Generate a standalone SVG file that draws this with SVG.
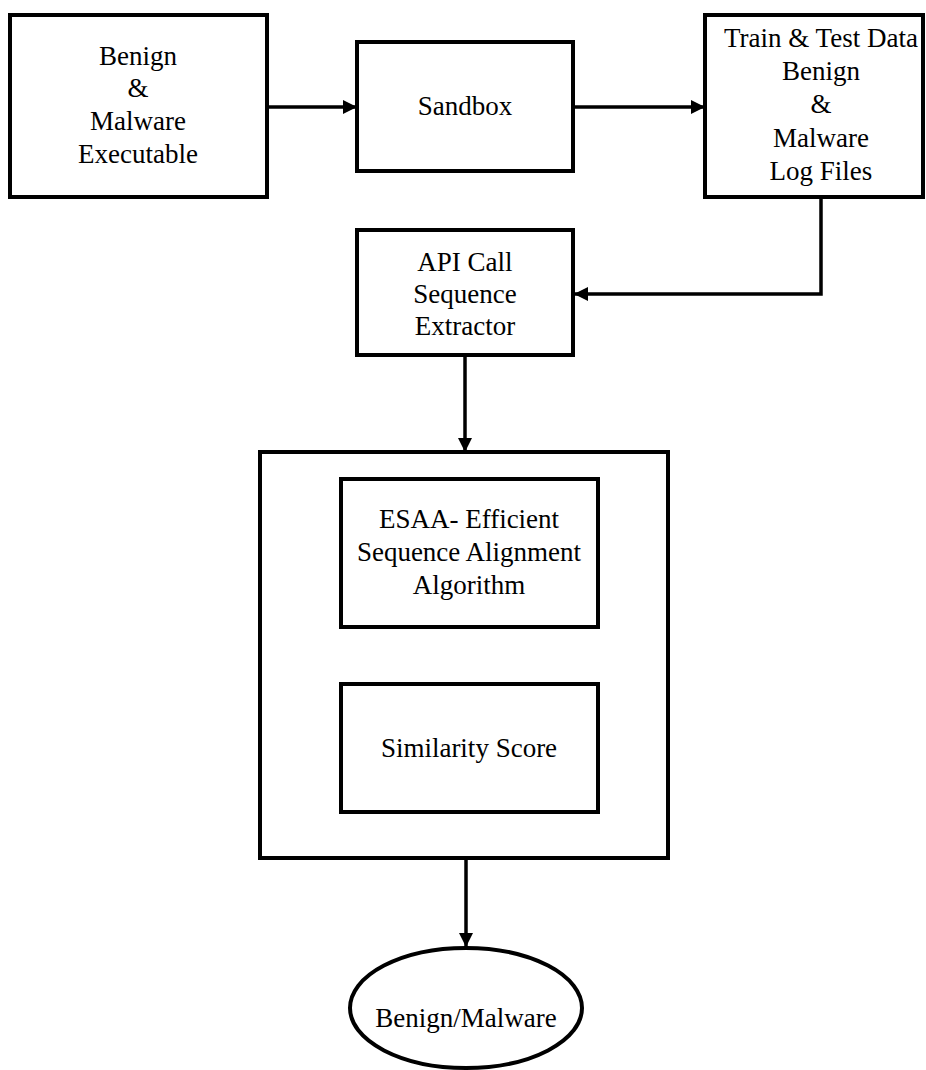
<svg xmlns="http://www.w3.org/2000/svg" width="926" height="1070" viewBox="0 0 926 1070">
<style>
.box{fill:#fff;stroke:#000;stroke-width:4}
.ln{fill:none;stroke:#000;stroke-width:3.5}
text{font-family:"Liberation Serif","Times New Roman",serif;font-size:27px;fill:#000;text-anchor:middle}
</style>
<defs>
<marker id="ah" markerWidth="14" markerHeight="14" refX="13" refY="7" orient="auto" markerUnits="userSpaceOnUse">
<path d="M0,0 L14,7 L0,14 Z" fill="#000"/>
</marker>
</defs>
<rect width="926" height="1070" fill="#fff"/>
<g id="connectors">
<line class="ln" x1="268" y1="107" x2="356" y2="107" marker-end="url(#ah)"/>
<line class="ln" x1="574" y1="107" x2="704" y2="107" marker-end="url(#ah)"/>
<polyline class="ln" points="821,198 821,294 575,294" marker-end="url(#ah)"/>
<line class="ln" x1="465" y1="356" x2="465" y2="451" marker-end="url(#ah)"/>
<line class="ln" x1="466" y1="860" x2="466" y2="946" marker-end="url(#ah)"/>
</g>
<g id="input">
<rect class="box" x="10" y="15" width="257" height="182"/>
<text x="138" y="65">Benign</text>
<text x="138" y="97">&amp;</text>
<text x="138" y="130">Malware</text>
<text x="138" y="163">Executable</text>
</g>
<g id="sandbox">
<rect class="box" x="357" y="42" width="216" height="129"/>
<text x="465" y="115">Sandbox</text>
</g>
<g id="logfiles">
<rect class="box" x="705" y="15" width="218" height="182"/>
<text x="821" y="47">Train &amp; Test Data</text>
<text x="821" y="80">Benign</text>
<text x="821" y="113">&amp;</text>
<text x="821" y="147">Malware</text>
<text x="821" y="180">Log Files</text>
</g>
<g id="extractor">
<rect class="box" x="357" y="230" width="216" height="125"/>
<text x="465" y="271">API Call</text>
<text x="465" y="303">Sequence</text>
<text x="465" y="335">Extractor</text>
</g>
<g id="container">
<rect class="box" x="260" y="452" width="408" height="406"/>
</g>
<g id="esaa">
<rect class="box" x="341" y="479" width="257" height="148"/>
<text x="469" y="528">ESAA- Efficient</text>
<text x="469" y="561">Sequence Alignment</text>
<text x="469" y="594">Algorithm</text>
</g>
<g id="similarity">
<rect class="box" x="341" y="684" width="257" height="128"/>
<text x="469" y="757">Similarity Score</text>
</g>
<g id="result">
<ellipse class="box" cx="466" cy="1008" rx="116" ry="60" stroke-width="4.5"/>
<text x="466" y="1027">Benign/Malware</text>
</g>
</svg>
